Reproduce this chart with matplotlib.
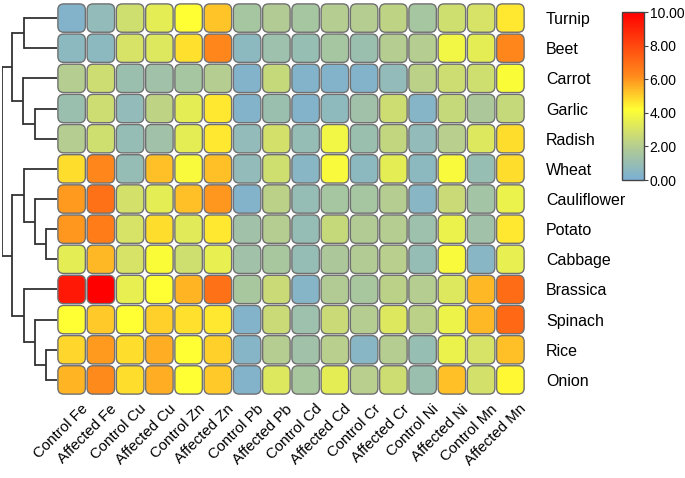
import matplotlib
matplotlib.use("Agg")
import matplotlib.pyplot as plt
import numpy as np
from matplotlib.patches import FancyBboxPatch
from matplotlib.colors import LinearSegmentedColormap, Normalize
from matplotlib.transforms import ScaledTranslation
import matplotlib.cm as cm

plt.rcParams['font.family'] = ['Liberation Sans', 'DejaVu Sans']

rows = ["Turnip", "Beet", "Carrot", "Garlic", "Radish", "Wheat", "Cauliflower",
        "Potato", "Cabbage", "Brassica", "Spinach", "Rice", "Onion"]
cols = ["Control Fe", "Affected Fe", "Control Cu", "Affected Cu", "Control Zn",
        "Affected Zn", "Control Pb", "Affected Pb", "Control Cd", "Affected Cd",
        "Control Cr", "Affected Cr", "Control Ni", "Affected Ni", "Control Mn",
        "Affected Mn"]

turnip      = [0.3, 0.8, 2.8, 3.4, 4.2, 5.2, 1.5, 1.9, 1.5, 2.0, 2.0, 2.3, 1.5, 2.8, 3.0, 4.6]
beet        = [0.6, 0.6, 3.0, 3.2, 4.7, 6.3, 0.6, 1.2, 1.0, 1.5, 1.1, 2.0, 2.0, 3.8, 3.4, 6.3]
carrot      = [2.0, 2.7, 1.1, 1.3, 1.5, 2.0, 0.3, 2.5, 0.3, 0.3, 0.3, 0.8, 2.2, 2.7, 2.8, 4.1]
garlic      = [1.1, 2.7, 0.8, 2.3, 3.4, 4.6, 0.3, 1.1, 0.3, 0.7, 1.3, 2.7, 0.4, 2.5, 1.7, 2.5]
radish      = [2.0, 2.8, 0.9, 1.3, 3.4, 4.6, 0.8, 2.9, 0.9, 3.8, 1.1, 2.4, 0.8, 2.1, 3.2, 4.8]
wheat       = [4.8, 6.3, 0.9, 5.3, 4.0, 5.3, 0.8, 2.8, 0.5, 4.0, 0.6, 3.4, 0.6, 4.0, 1.0, 4.8]
cauliflower = [5.9, 6.9, 2.9, 3.4, 5.3, 6.0, 0.3, 2.2, 0.9, 1.5, 1.5, 2.0, 0.5, 2.6, 1.4, 3.6]
potato      = [6.0, 6.6, 3.0, 4.8, 3.3, 4.6, 1.3, 2.0, 0.9, 2.5, 1.9, 2.0, 1.2, 3.6, 1.3, 4.6]
cabbage     = [3.4, 5.4, 3.0, 4.1, 2.8, 3.5, 1.3, 1.6, 0.9, 1.7, 1.9, 2.1, 0.9, 4.0, 0.5, 3.5]
brassica    = [9.3, 10.0, 3.5, 4.2, 5.5, 6.9, 1.6, 2.6, 0.4, 1.9, 1.6, 2.2, 2.0, 3.2, 5.4, 7.0]
spinach     = [4.2, 5.1, 4.2, 5.0, 4.7, 4.6, 0.3, 2.6, 1.2, 2.6, 2.0, 3.2, 2.2, 3.7, 5.4, 7.1]
rice        = [4.9, 5.9, 4.8, 5.6, 4.2, 5.0, 0.4, 2.0, 1.3, 2.1, 0.5, 2.0, 1.0, 3.6, 3.0, 5.3]
onion       = [5.5, 6.2, 4.8, 5.6, 4.2, 5.1, 0.3, 3.2, 1.6, 3.4, 2.1, 2.7, 1.1, 5.3, 2.9, 4.3]

data = np.array([turnip, beet, carrot, garlic, radish, wheat, cauliflower,
                 potato, cabbage, brassica, spinach, rice, onion])

# dendrogram linkage: (child_a, child_b, height); leaves are 0..12, new nodes 13+
linkage = [(0, 1, 33), (3, 4, 22), (2, 14, 34), (13, 15, 45),
           (7, 8, 11), (6, 17, 22), (5, 18, 33),
           (11, 12, 11), (10, 20, 22), (9, 21, 33),
           (19, 22, 45), (16, 23, 55)]

cbar_ticks = [0, 2, 4, 6, 8, 10]

cmap = LinearSegmentedColormap.from_list(
    "cm", [(0.0, "#7bafd4"), (0.2, "#b5cd90"), (0.42, "#ffff33"),
           (0.62, "#ff8a1c"), (1.0, "#ff0000")])
norm = Normalize(0, 10)

W, H = 685, 478
fig = plt.figure(figsize=(W / 100, H / 100), dpi=100)

hx0, hx1, hy0, hy1 = 57, 525, 3, 395
ax = fig.add_axes([hx0 / W, 1 - hy1 / H, (hx1 - hx0) / W, (hy1 - hy0) / H])
nr, nc = data.shape
pad = 0.03
for i in range(nr):
    for j in range(nc):
        p = FancyBboxPatch((j + pad, i + pad), 1 - 2 * pad, 1 - 2 * pad,
                           boxstyle="round,pad=0,rounding_size=0.2",
                           facecolor=cmap(norm(data[i, j])),
                           edgecolor="#707070", linewidth=1.0)
        ax.add_patch(p)
ax.set_xlim(0, nc)
ax.set_ylim(nr, 0)
for s in ax.spines.values():
    s.set_visible(False)
ax.set_xticks(np.arange(nc) + 0.5)
ax.set_xticklabels(cols, rotation=45, ha="right", va="top",
                   rotation_mode="anchor", fontsize=10.8)
ax.tick_params(axis="x", length=0, pad=5)
shift = ScaledTranslation(0.09, 0, fig.dpi_scale_trans)
for lab in ax.get_xticklabels():
    lab.set_transform(lab.get_transform() + shift)
ax.set_yticks(np.arange(nr) + 0.5)
ax.set_yticklabels(rows, fontsize=11.5)
ax.yaxis.tick_right()
ax.tick_params(axis="y", length=0, pad=15)

# dendrogram
dx0 = 2
dax = fig.add_axes([dx0 / W, 1 - hy1 / H, (hx0 - dx0) / W, (hy1 - hy0) / H])
pos = {k: k + 0.5 for k in range(nr)}
hgt = {k: 0.0 for k in range(nr)}
for n, (a, b, h) in enumerate(linkage):
    node = nr + n
    for c in (a, b):
        dax.plot([hgt[c], h], [pos[c], pos[c]], color="#333333", lw=1.3,
                 solid_capstyle="butt")
    dax.plot([h, h], [pos[a], pos[b]], color="#333333", lw=1.3,
             solid_capstyle="projecting")
    pos[node] = (pos[a] + pos[b]) / 2
    hgt[node] = h
dax.set_xlim(hx0 - dx0, 0)
dax.set_ylim(nr, 0)
dax.axis("off")

# colorbar
cax = fig.add_axes([622 / W, 1 - 180 / H, 22 / W, 168 / H])
cb = fig.colorbar(cm.ScalarMappable(norm=norm, cmap=cmap), cax=cax)
cb.set_ticks(cbar_ticks)
cb.set_ticklabels([f"{t:.2f}" for t in cbar_ticks])
cb.outline.set_edgecolor("#444444")
cb.outline.set_linewidth(1.0)
cax.tick_params(labelsize=10, length=3, color="#444444", pad=1)

fig.savefig("out.png", dpi=100)
